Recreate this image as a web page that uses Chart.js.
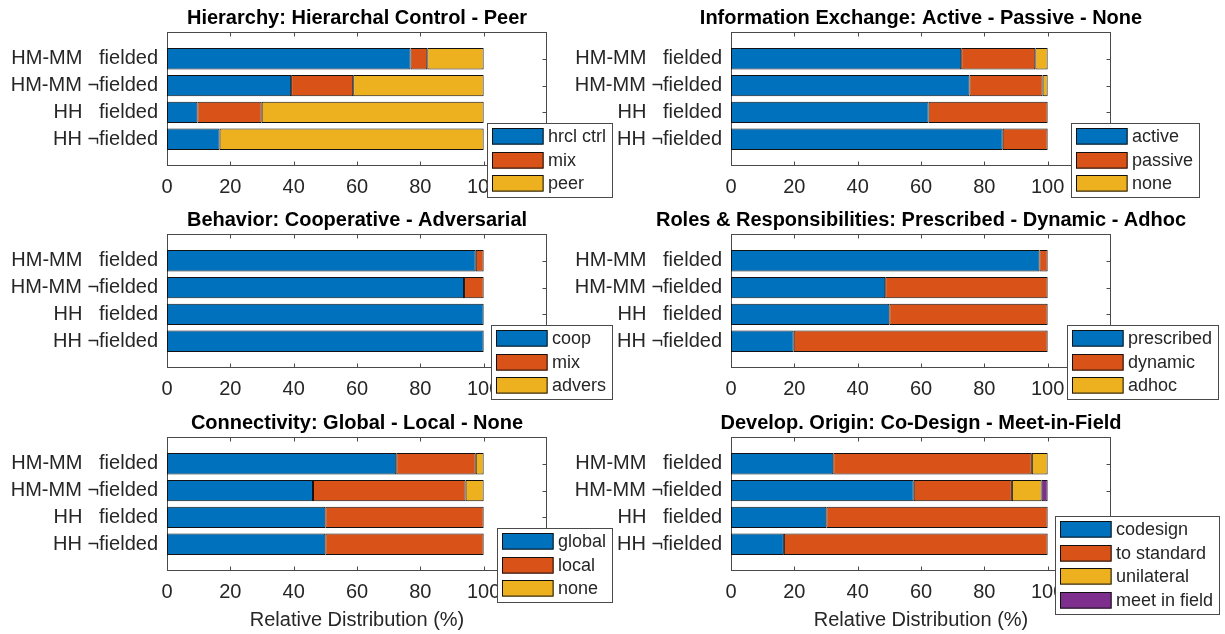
<!DOCTYPE html>
<html>
<head>
<meta charset="utf-8">
<script src="https://cdn.jsdelivr.net/npm/chart.js@4.4.1/dist/chart.umd.min.js"></script>
<style>
  html, body { margin: 0; padding: 0; background: #fff; }
  #fig { position: relative; width: 1225px; height: 634px; overflow: hidden; background: #fff; }
  #fig canvas { position: absolute; }
</style>
</head>
<body>
<div id="fig"></div>
<script>
// ---- data ----
const categories = ['HM-MM   fielded', 'HM-MM \u00acfielded', 'HH   fielded', 'HH \u00acfielded'];
const xTickLabels = [0, 20, 40, 60, 80, 100];
const xAxisTitle = 'Relative Distribution (%)';

const hierarchyTitle = 'Hierarchy: Hierarchal Control - Peer';
const hierarchyLabels = ['hrcl ctrl', 'mix', 'peer'];
const hierarchyCtrl = [76.9, 39.2, 9.6, 16.6];
const hierarchyMix  = [5.3, 19.6, 20.3, 0];
const hierarchyPeer = [17.8, 41.2, 70.1, 83.4];

const infoTitle = 'Information Exchange: Active - Passive - None';
const infoLabels = ['active', 'passive', 'none'];
const infoActive  = [72.7, 75.3, 62.4, 85.8];
const infoPassive = [23.4, 23.1, 37.6, 14.2];
const infoNone    = [3.9, 1.6, 0, 0];

const behaviorTitle = 'Behavior: Cooperative - Adversarial';
const behaviorLabels = ['coop', 'mix', 'advers'];
const behaviorCoop   = [97.5, 93.8, 100, 100];
const behaviorMix    = [2.5, 6.2, 0, 0];
const behaviorAdvers = [0, 0, 0, 0];

const rolesTitle = 'Roles & Responsibilities: Prescribed - Dynamic - Adhoc';
const rolesLabels = ['prescribed', 'dynamic', 'adhoc'];
const rolesPrescribed = [97.4, 48.7, 50.0, 19.8];
const rolesDynamic    = [2.6, 51.3, 50.0, 80.2];
const rolesAdhoc      = [0, 0, 0, 0];

const connTitle = 'Connectivity: Global - Local - None';
const connLabels = ['global', 'local', 'none'];
const connGlobal = [72.4, 46.1, 50, 50];
const connLocal  = [25.1, 48.2, 50, 50];
const connNone   = [2.5, 5.7, 0, 0];

const originTitle = 'Develop. Origin: Co-Design - Meet-in-Field';
const originLabels = ['codesign', 'to standard', 'unilateral', 'meet in field'];
const originCodesign   = [32.3, 57.7, 30.1, 16.7];
const originStandard   = [62.7, 31.0, 69.9, 83.3];
const originUnilateral = [5.0, 9.4, 0, 0];
const originMeet       = [0, 1.9, 0, 0];

// ---- styling ----
const FONT = "'Liberation Sans', Arial, Helvetica, sans-serif";
const SERIES_COLORS = ['#0072BD', '#D95319', '#EDB120', '#7E2F8E'];
const TEXT = '#262626';
const FRAME = '#4a4a4a';

Chart.defaults.font.family = FONT;

// axes box with inward tick marks on all four sides
const axesFrame = {
  id: 'axesFrame',
  beforeDatasetsDraw(chart) {
    const { ctx, chartArea: a, scales: { x, y } } = chart;
    const L = Math.round(a.left) + 0.5, R = Math.round(a.right) - 0.5;
    const T = Math.round(a.top) + 0.5, B = Math.round(a.bottom) - 0.5;
    const len = 4;
    ctx.save();
    ctx.strokeStyle = FRAME;
    ctx.lineWidth = 1;
    ctx.beginPath();
    x.ticks.forEach(t => {
      if (t.value <= x.min || t.value >= x.max) return;
      const px = Math.round(x.getPixelForValue(t.value)) + 0.5;
      ctx.moveTo(px, T); ctx.lineTo(px, T + len);
      ctx.moveTo(px, B); ctx.lineTo(px, B - len);
    });
    y.ticks.forEach(t => {
      if (t.value <= y.min || t.value >= y.max) return;
      const py = Math.round(y.getPixelForValue(t.value)) + 0.5;
      ctx.moveTo(L, py); ctx.lineTo(L + len, py);
      ctx.moveTo(R, py); ctx.lineTo(R - len, py);
    });
    ctx.stroke();
    ctx.strokeRect(L, T, R - L, B - T);
    ctx.restore();
  }
};

// bold title centred over the plot box, free to be wider than the box
const axesTitle = {
  id: 'axesTitle',
  afterDraw(chart, args, opts) {
    const { ctx, chartArea: a } = chart;
    ctx.save();
    ctx.font = 'bold 20px ' + FONT;
    ctx.fillStyle = '#000';
    ctx.textAlign = 'center';
    ctx.textBaseline = 'middle';
    ctx.fillText(opts.text, (a.left + a.right) / 2, a.top - 14);
    ctx.restore();
  }
};

// boxed legend with swatches, placed at a fixed spot of the panel
const boxLegend = {
  id: 'boxLegend',
  afterDraw(chart, args, opts) {
    const { ctx } = chart;
    const ds = chart.data.datasets;
    ctx.save();
    ctx.font = '18px ' + FONT;
    const textW = Math.max(...ds.map(d => ctx.measureText(d.label).width));
    const L = opts.x, T = opts.y;
    const pitch = 23.7, sw = 51.6, sh = 16.6;
    const W = Math.round(61 + textW + 6);
    const H = Math.round(10 + sh + (ds.length - 1) * pitch);
    ctx.fillStyle = '#fff';
    ctx.fillRect(L, T, W, H);
    ctx.strokeStyle = FRAME;
    ctx.lineWidth = 1;
    ctx.strokeRect(L + 0.5, T + 0.5, W, H);
    ds.forEach((d, i) => {
      const sy = Math.round(T + 5 + i * pitch);
      ctx.fillStyle = d.backgroundColor;
      ctx.fillRect(L + 5, sy, sw, sh);
      ctx.strokeStyle = '#111';
      ctx.strokeRect(L + 5.5, sy + 0.5, sw - 1, sh - 1);
      ctx.fillStyle = TEXT;
      ctx.textBaseline = 'middle';
      ctx.textAlign = 'left';
      ctx.fillText(d.label, L + 61, sy + sh / 2 + 0.5);
    });
    ctx.restore();
  }
};

const panels = [
  { col: 0, row: 0, title: hierarchyTitle, labels: hierarchyLabels,
    series: [hierarchyCtrl, hierarchyMix, hierarchyPeer], legend: [487, 123] },
  { col: 1, row: 0, title: infoTitle, labels: infoLabels,
    series: [infoActive, infoPassive, infoNone], legend: [1071, 123] },
  { col: 0, row: 1, title: behaviorTitle, labels: behaviorLabels,
    series: [behaviorCoop, behaviorMix, behaviorAdvers], legend: [491, 325] },
  { col: 1, row: 1, title: rolesTitle, labels: rolesLabels,
    series: [rolesPrescribed, rolesDynamic, rolesAdhoc], legend: [1067, 325] },
  { col: 0, row: 2, title: connTitle, labels: connLabels,
    series: [connGlobal, connLocal, connNone], legend: [497, 528] },
  { col: 1, row: 2, title: originTitle, labels: originLabels,
    series: [originCodesign, originStandard, originUnilateral, originMeet], legend: [1055, 516] }
];

const fig = document.getElementById('fig');

panels.forEach(p => {
  const canvasLeft = p.col === 0 ? 0 : 560;
  const canvasWidth = p.col === 0 ? 614 : 665;
  const canvasTop = [0, 202, 405][p.row];
  const canvasHeight = [200, 200, 229][p.row];
  const axLeft = p.col === 0 ? 167 : 731;
  const axRight = axLeft + 380;
  const axTop = [32, 234, 437][p.row];
  const axBottom = axTop + 134;
  const lastRow = p.row === 2;

  const cv = document.createElement('canvas');
  cv.width = canvasWidth;
  cv.height = canvasHeight;
  cv.style.left = canvasLeft + 'px';
  cv.style.top = canvasTop + 'px';
  cv.style.width = canvasWidth + 'px';
  cv.style.height = canvasHeight + 'px';
  fig.appendChild(cv);

  const datasets = p.series.map((vals, k) => ({
    label: p.labels[k],
    data: vals.map((v, i) => ({ x: v, y: i + 1 })),
    backgroundColor: SERIES_COLORS[k],
    borderColor: '#111',
    borderWidth: 1,
    borderSkipped: false,
    categoryPercentage: 0.8,
    barPercentage: 1
  }));

  new Chart(cv, {
    type: 'bar',
    data: { datasets },
    plugins: [axesFrame, axesTitle, boxLegend],
    options: {
      indexAxis: 'y',
      responsive: false,
      animation: false,
      devicePixelRatio: 1,
      layout: { padding: { left: 0, top: axTop - canvasTop, bottom: 0, right: canvasLeft + canvasWidth - axRight } },
      scales: {
        y: {
          type: 'linear',
          stacked: true,
          reverse: true,
          offset: false,
          min: 0,
          max: 5,
          grid: { display: false, drawTicks: false, offset: false },
          border: { display: false },
          ticks: {
            stepSize: 1,
            autoSkip: false,
            padding: 9,
            color: TEXT,
            font: { size: 20 },
            callback: v => categories[v - 1] || ''
          },
          afterFit: s => { s.width = axLeft - canvasLeft; }
        },
        x: {
          type: 'linear',
          stacked: true,
          min: 0,
          max: 120,
          grid: { display: false, drawTicks: false },
          border: { display: false },
          ticks: {
            stepSize: 20,
            maxRotation: 0,
            padding: 9,
            color: TEXT,
            font: { size: 20 },
            callback: v => xTickLabels.includes(v) ? String(v) : ''
          },
          title: {
            display: lastRow,
            text: xAxisTitle,
            color: TEXT,
            font: { size: 20 },
            padding: { top: 0, bottom: 2 }
          },
          afterFit: s => { s.height = canvasHeight - (axBottom - canvasTop); }
        }
      },
      plugins: {
        legend: { display: false },
        tooltip: { enabled: false },
        title: { display: false },
        axesTitle: { text: p.title },
        boxLegend: { x: p.legend[0] - canvasLeft, y: p.legend[1] - canvasTop }
      }
    }
  });
});
</script>
</body>
</html>
